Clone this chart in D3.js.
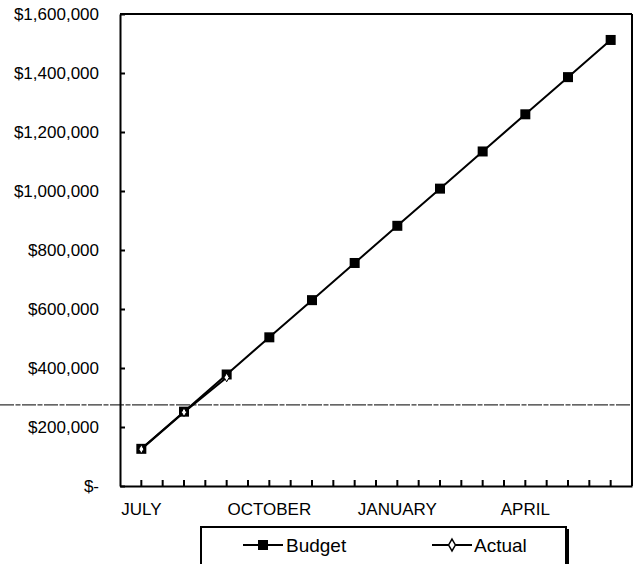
<!DOCTYPE html>
<html><head><meta charset="utf-8">
<script src="https://cdn.jsdelivr.net/npm/d3@7"></script>
<style>
html,body{margin:0;padding:0;background:#fff;}
svg{display:block;}
svg text{font-family:"Liberation Sans",Arial,sans-serif;}
</style></head>
<body><svg id="chart" width="636" height="564"></svg>
<script>
const months = ["JULY","AUGUST","SEPTEMBER","OCTOBER","NOVEMBER","DECEMBER","JANUARY","FEBRUARY","MARCH","APRIL","MAY","JUNE"];
const budget = [126000,252000,378000,504000,630000,756000,882000,1008000,1134000,1260000,1386000,1512000];
const actualMonths = ["JULY","AUGUST","SEPTEMBER"];
const actual = [125000,250000,368000];
const yTicks = [0,200000,400000,600000,800000,1000000,1200000,1400000,1600000];
const xTickLabels = ["JULY","OCTOBER","JANUARY","APRIL"];
const refLine = [275000];
const seriesNames = ["Budget","Actual"];

const FONT = '"Liberation Sans", Arial, sans-serif';
const svg = d3.select("#chart");
const L = 120, R = 632, T = 14, B = 486;

const x = d3.scaleBand().domain(months).range([L, R]).paddingInner(0).paddingOuter(0);
const cx = m => x(m) + x.bandwidth()/2;
const y = d3.scaleLinear().domain([0,1600000]).range([B, T]);

// scan line artifact / reference line
svg.selectAll(".ref").data(refLine).enter().append("line")
  .attr("x1", 0).attr("x2", R).attr("y1", d=>y(d)).attr("y2", d=>y(d))
  .attr("stroke","#333").attr("stroke-width",1.2).attr("stroke-dasharray","14,1.5,5,1.5");

// frame: top and right
svg.append("line").attr("x1",L).attr("x2",R).attr("y1",T).attr("y2",T).attr("stroke","#000").attr("stroke-width",2);
svg.append("line").attr("x1",R).attr("x2",R).attr("y1",T).attr("y2",B).attr("stroke","#000").attr("stroke-width",2);

// y axis
const fmt = d3.format("$,");
const yAxis = d3.axisLeft(y).tickValues(yTicks).tickSizeInner(-5).tickSizeOuter(0).tickPadding(21)
  .tickFormat(d => d === 0 ? "$-" : fmt(d));
const gy = svg.append("g").attr("transform",`translate(${L},0)`).call(yAxis).attr("font-family",FONT);
gy.select(".domain").attr("stroke","#000").attr("stroke-width",2);
gy.selectAll(".tick line").attr("stroke","#000").attr("stroke-width",2);
gy.selectAll("text").attr("font-size",17).attr("fill","#000").attr("font-family",FONT);

// x axis
const xAxis = d3.axisBottom(x).tickSizeInner(-6).tickSizeOuter(0).tickPadding(17)
  .tickFormat(d => xTickLabels.includes(d) ? d : "");
const gx = svg.append("g").attr("transform",`translate(0,${B})`).call(xAxis).attr("font-family",FONT);
gx.select(".domain").attr("stroke","#000").attr("stroke-width",2);
gx.selectAll(".tick line").attr("stroke","#000").attr("stroke-width",2);
gx.selectAll("text").attr("font-size",17).attr("fill","#000").attr("font-family",FONT);
// minor ticks at category boundaries
gx.selectAll(".minor").data(months.slice(1)).enter().append("line")
  .attr("x1", d=>x(d)).attr("x2", d=>x(d)).attr("y1",0).attr("y2",-6)
  .attr("stroke","#000").attr("stroke-width",2);

// lines
const line = d3.line().x(d=>cx(d.m)).y(d=>y(d.v));
const bData = months.map((m,i)=>({m, v:budget[i]}));
const aData = actualMonths.map((m,i)=>({m, v:actual[i]}));
svg.append("path").datum(bData).attr("d",line).attr("fill","none").attr("stroke","#000").attr("stroke-width",2);
svg.append("path").datum(aData).attr("d",line).attr("fill","none").attr("stroke","#000").attr("stroke-width",2);
const sq = 10;
svg.selectAll(".bm").data(bData).enter().append("rect")
  .attr("x", d=>cx(d.m)-sq/2).attr("y", d=>y(d.v)-sq/2).attr("width",sq).attr("height",sq).attr("fill","#000");
const dia = d3.symbol().type(d3.symbolDiamond).size(22);
svg.selectAll(".am").data(aData).enter().append("path")
  .attr("d", dia).attr("transform", d=>`translate(${cx(d.m)},${y(d.v)})`)
  .attr("fill","#fff").attr("stroke","#000").attr("stroke-width",1);

// legend
const lg = svg.append("g");
lg.append("rect").attr("x",201).attr("y",527).attr("width",365).attr("height",60).attr("fill","#fff").attr("stroke","#000").attr("stroke-width",2);
lg.append("line").attr("x1",567.5).attr("x2",567.5).attr("y1",529).attr("y2",590).attr("stroke","#000").attr("stroke-width",3);
const items = [{name:seriesNames[0], x0:243, tx:286},{name:seriesNames[1], x0:432, tx:474}];
items.forEach((it,i)=>{
  lg.append("line").attr("x1",it.x0).attr("x2",it.x0+40).attr("y1",545).attr("y2",545).attr("stroke","#000").attr("stroke-width",2);
  if(i===0){
    lg.append("rect").attr("x",it.x0+20-5).attr("y",540).attr("width",10).attr("height",10).attr("fill","#000");
  } else {
    lg.append("path").attr("d", d3.symbol().type(d3.symbolDiamond).size(40)).attr("transform",`translate(${it.x0+20},545)`)
      .attr("fill","#fff").attr("stroke","#000").attr("stroke-width",1.5);
  }
  lg.append("text").attr("x",it.tx).attr("y",545).attr("dy","0.35em").attr("font-size",19).attr("fill","#000").attr("font-family",FONT).text(it.name);
});
</script></body></html>
